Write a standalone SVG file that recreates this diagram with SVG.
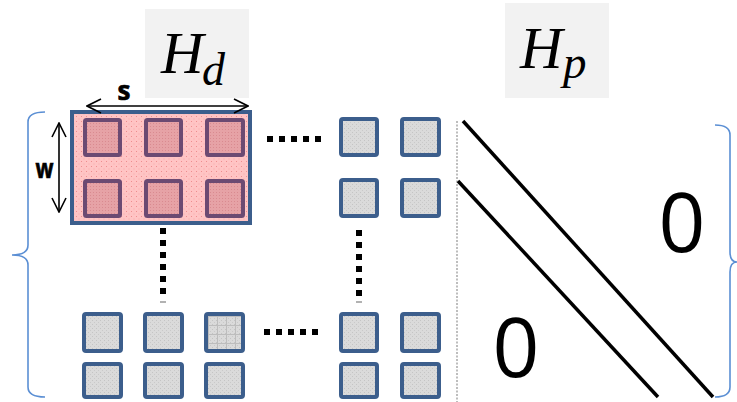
<svg xmlns="http://www.w3.org/2000/svg" width="737" height="402" viewBox="0 0 737 402">
  <defs>
    <pattern id="stippleGray" width="4" height="4" patternUnits="userSpaceOnUse">
      <rect width="4" height="4" fill="#dadada"/>
      <rect x="0" y="0" width="1" height="1" fill="#c4c4c4"/>
      <rect x="2" y="2" width="1" height="1" fill="#c9c9c9"/>
    </pattern>
    <pattern id="gridGray" width="9" height="9" patternUnits="userSpaceOnUse" x="1" y="1">
      <rect width="9" height="9" fill="url(#stippleGray)"/>
      <path d="M0 0.5H9M0.5 0V9" stroke="#bdbdbd" stroke-width="1"/>
    </pattern>
    <pattern id="stipplePink" width="5" height="5" patternUnits="userSpaceOnUse">
      <rect width="5" height="5" fill="#ffc4c4"/>
      <rect x="1" y="1" width="1" height="1" fill="#ee8d8f"/>
      <rect x="3.5" y="3.5" width="1" height="1" fill="#f6a9a9"/>
    </pattern>
    <pattern id="stippleRose" width="3" height="3" patternUnits="userSpaceOnUse">
      <rect width="3" height="3" fill="#e6a2a6"/>
      <rect x="0" y="0" width="1" height="1" fill="#d98a90"/>
    </pattern>
    <marker id="vee" viewBox="0 0 16 16" refX="15" refY="8" markerWidth="16" markerHeight="16" markerUnits="userSpaceOnUse" orient="auto-start-reverse">
      <path d="M1 1 L15 8 L1 15" fill="none" stroke="#000" stroke-width="1.6"/>
    </marker>
    <style>
      .cell { fill: url(#stippleGray); stroke: #3c5e8c; stroke-width: 4; }
      .grid { fill: url(#gridGray); stroke: #3c5e8c; stroke-width: 4; }
      .hot  { fill: url(#stippleRose); stroke: #6c4a72; stroke-width: 4; }
      .dots { stroke: #000; stroke-width: 6; stroke-dasharray: 6 6; fill: none; }
      .brace { fill: none; stroke: #5b8fd4; stroke-width: 1.6; }
      .diag { stroke: #000; stroke-width: 3.5; stroke-linecap: butt; }
      .math { font-family: "Liberation Serif", "DejaVu Serif", serif; font-style: italic; fill: #000; }
      .lbl { font-family: "Open Sans", "Liberation Sans", sans-serif; font-weight: bold; fill: #000; stroke: #000; stroke-width: 0.7; }
      .zero { font-family: "Open Sans", "Liberation Sans", sans-serif; fill: #000; }
      .title { fill: #f2f2f2; }
    </style>
  </defs>

  <!-- matrix titles -->
  <g id="title-hd">
    <rect class="title" x="145" y="9" width="104" height="89"/>
    <text class="math" x="161" y="73" font-size="59">H</text>
    <text class="math" x="202" y="85" font-size="46">d</text>
  </g>
  <g id="title-hp">
    <rect class="title" x="505" y="3" width="104" height="95"/>
    <text class="math" x="520" y="68" font-size="59">H</text>
    <text class="math" x="563" y="78" font-size="47">p</text>
  </g>

  <!-- highlighted block of the block-diagonal part -->
  <g id="block-window">
    <rect x="72" y="112" width="178" height="111" fill="url(#stipplePink)" stroke="#3c5e8c" stroke-width="4"/>
    <rect class="hot" x="85" y="120" width="35" height="35" rx="1.5"/>
    <rect class="hot" x="146" y="120" width="35" height="35" rx="1.5"/>
    <rect class="hot" x="207" y="120" width="36" height="35" rx="1.5"/>
    <rect class="hot" x="85" y="181" width="35" height="35" rx="1.5"/>
    <rect class="hot" x="146" y="181" width="35" height="35" rx="1.5"/>
    <rect class="hot" x="207" y="181" width="36" height="35" rx="1.5"/>
  </g>

  <!-- remaining blocks -->
  <g id="blocks-top-right">
    <rect class="cell" x="341" y="119" width="36" height="36" rx="2"/>
    <rect class="cell" x="402" y="119" width="37" height="36" rx="2"/>
    <rect class="cell" x="341" y="180" width="36" height="36" rx="2"/>
    <rect class="cell" x="402" y="180" width="37" height="36" rx="2"/>
  </g>
  <g id="blocks-bottom-left">
    <rect class="cell" x="84" y="314" width="37" height="37" rx="2"/>
    <rect class="cell" x="145" y="314" width="37" height="37" rx="2"/>
    <rect class="grid" x="206" y="314" width="37" height="37" rx="2"/>
    <rect class="cell" x="84" y="364" width="37" height="33" rx="2"/>
    <rect class="cell" x="145" y="364" width="37" height="33" rx="2"/>
    <rect class="cell" x="206" y="364" width="37" height="33" rx="2"/>
  </g>
  <g id="blocks-bottom-right">
    <rect class="cell" x="341" y="314" width="36" height="37" rx="2"/>
    <rect class="cell" x="402" y="314" width="37" height="37" rx="2"/>
    <rect class="cell" x="341" y="364" width="36" height="33" rx="2"/>
    <rect class="cell" x="402" y="364" width="37" height="33" rx="2"/>
  </g>

  <!-- ellipsis dots, dimension arrows, separators -->
  <g id="connectors">
    <line class="dots" x1="267" y1="139" x2="322" y2="139"/>
    <line class="dots" x1="264" y1="332" x2="319" y2="332"/>
    <line class="dots" x1="163" y1="228" x2="163" y2="298"/>
    <line x1="160" y1="302" x2="166" y2="302" stroke="#999" stroke-width="1.5"/>
    <line class="dots" x1="359" y1="230" x2="359" y2="298"/>
    <line x1="356" y1="302" x2="362" y2="302" stroke="#999" stroke-width="1.5"/>

    <line x1="87" y1="106" x2="248" y2="106" stroke="#000" stroke-width="1.6" marker-start="url(#vee)" marker-end="url(#vee)"/>
    <line x1="59" y1="123" x2="59" y2="212" stroke="#000" stroke-width="1.6" marker-start="url(#vee)" marker-end="url(#vee)"/>

    <line x1="457" y1="121" x2="457" y2="402" stroke="#bdbdbd" stroke-width="2" stroke-dasharray="2 1.5"/>

    <line class="diag" x1="463" y1="121" x2="713" y2="397"/>
    <line class="diag" x1="458" y1="181" x2="658" y2="397"/>

    <path class="brace" d="M45 112 Q28 112 28 122 L28 245 Q28 255 12 255 Q28 255 28 265 L28 387 Q28 397 45 397"/>
    <path class="brace" d="M715 125 Q730 125 730 135 L730 252 Q730 262 737 262 Q730 262 730 272 L730 387 Q730 397 715 397"/>
  </g>

  <!-- labels -->
  <g id="labels">
    <text class="lbl" x="124" y="100" font-size="26" text-anchor="middle">s</text>
    <text class="lbl" x="44.5" y="178" font-size="27" text-anchor="middle" textLength="18" lengthAdjust="spacingAndGlyphs">w</text>
    <text class="zero" x="682" y="252" font-size="82" text-anchor="middle">0</text>
    <text class="zero" x="516" y="377" font-size="82" text-anchor="middle">0</text>
  </g>
</svg>
